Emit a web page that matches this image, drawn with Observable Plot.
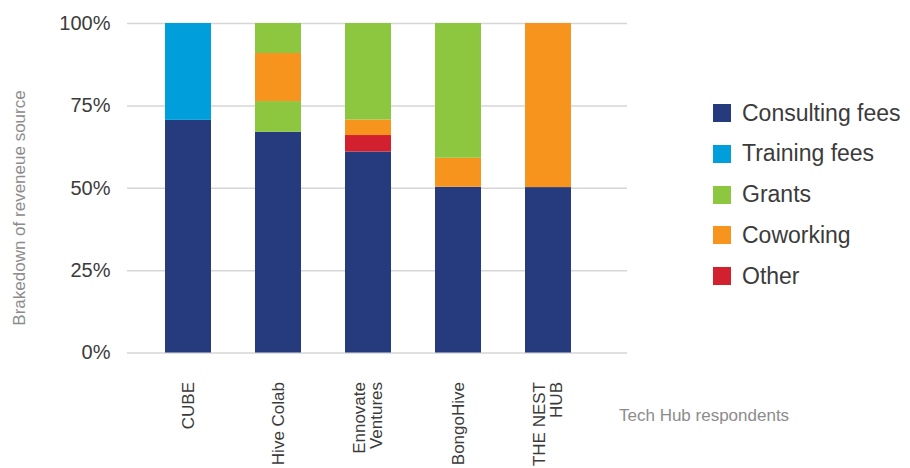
<!DOCTYPE html>
<html>
<head>
<meta charset="utf-8">
<script src="https://cdn.jsdelivr.net/npm/d3@7"></script>
<script src="https://cdn.jsdelivr.net/npm/@observablehq/plot@0.6"></script>
<style>
  html, body { margin: 0; padding: 0; background: #fff; }
  #wrap { position: relative; width: 910px; height: 468px; font-family: "Liberation Sans", Arial, sans-serif; overflow: hidden; }
  #chart svg { display: block; }
  .ytitle { position: absolute; left: 20px; top: 208px; transform: translate(-50%, -50%) rotate(-90deg); white-space: nowrap; font-size: 17px; color: #8c8c8c; }
  .xtitle { position: absolute; left: 619px; top: 406px; white-space: nowrap; font-size: 17px; color: #8c8c8c; }
  .legend { position: absolute; left: 713px; top: 0; }
  .legend .row { position: absolute; left: 0; display: flex; align-items: center; white-space: nowrap; height: 30px; }
  .legend .sw { width: 18px; height: 18px; margin-right: 11px; }
  .legend .lab { font-size: 23px; color: #3b3b3b; }
</style>
</head>
<body>
<div id="wrap">
  <div id="chart"></div>
  <div class="ytitle">Brakedown of reveneue source</div>
  <div class="xtitle">Tech Hub respondents</div>
  <div class="legend" id="legend"></div>
</div>
<script>
// Categories (tech hubs) and their axis labels
const hubs = ["CUBE", "Hive Colab", "Ennovate Ventures", "BongoHive", "THE NEST HUB"];
const hubLabels = ["CUBE", "Hive Colab", "Ennovate\nVentures", "BongoHive", "THE NEST\nHUB"];

// Revenue sources and colours
const sources = ["Consulting fees", "Training fees", "Grants", "Coworking", "Other"];
const sourceColors = ["#253b7d", "#009fdb", "#8dc63f", "#f7941d", "#d2202e"];

// Stacked segments per hub, bottom to top: [source, percent]
const cubeSegments = [["Consulting fees", 70.6], ["Training fees", 29.4]];
const hiveColabSegments = [["Consulting fees", 67.0], ["Grants", 9.3], ["Coworking", 14.6], ["Grants", 9.1]];
const ennovateSegments = [["Consulting fees", 61.0], ["Other", 5.0], ["Coworking", 4.7], ["Grants", 29.3]];
const bongoHiveSegments = [["Consulting fees", 50.3], ["Coworking", 8.8], ["Grants", 40.9]];
const nestHubSegments = [["Consulting fees", 50.2], ["Coworking", 49.8]];

const yTicks = [0, 25, 50, 75, 100];

const segmentsByHub = [cubeSegments, hiveColabSegments, ennovateSegments, bongoHiveSegments, nestHubSegments];
const rows = [];
segmentsByHub.forEach((segs, i) => {
  segs.forEach(([source, value]) => rows.push({hub: hubs[i], source, value}));
});

const labelOf = new Map(hubs.map((h, i) => [h, hubLabels[i]]));

const chart = Plot.plot({
  width: 910,
  height: 468,
  marginTop: 23,
  marginBottom: 115.5,
  marginLeft: 127,
  marginRight: 283,
  style: {fontFamily: '"Liberation Sans", Arial, sans-serif', color: "#3b3b3b", background: "#fff"},
  x: {domain: hubs, range: [143, 593], paddingInner: 0.489, paddingOuter: 0.2445, label: null},
  y: {domain: [0, 100], label: null},
  color: {domain: sources, range: sourceColors},
  marks: [
    Plot.ruleY(yTicks, {stroke: "#d6d6d6", strokeWidth: 1.5}),
    Plot.barY(rows, {x: "hub", y: "value", fill: "source", order: null}),
    Plot.axisY({ticks: yTicks, tickSize: 0, tickPadding: 17, tickFormat: d => d + "%", fontSize: 20, label: null}),
    Plot.axisX({tickSize: 0, tickPadding: 29, tickRotate: -90, fontSize: 17, tickFormat: d => labelOf.get(d), label: null})
  ]
});
document.getElementById("chart").appendChild(chart);

// Legend
const legend = document.getElementById("legend");
sources.forEach((s, i) => {
  const row = document.createElement("div");
  row.className = "row";
  row.style.top = (113 + i * 40.8 - 15) + "px";
  const sw = document.createElement("div");
  sw.className = "sw";
  sw.style.background = sourceColors[i];
  const lab = document.createElement("div");
  lab.className = "lab";
  lab.textContent = s;
  row.appendChild(sw);
  row.appendChild(lab);
  legend.appendChild(row);
});
</script>
</body>
</html>
